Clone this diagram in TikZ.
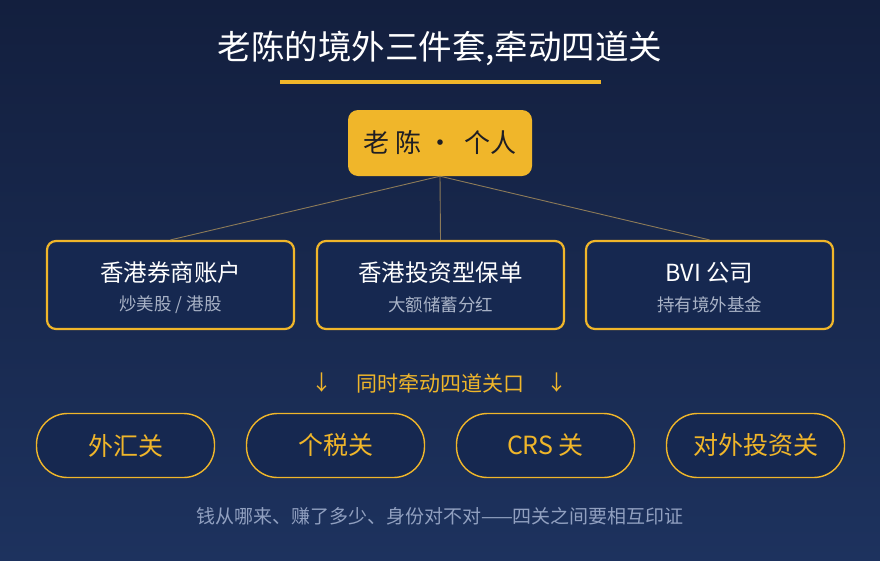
\documentclass[tikz,border=0pt]{standalone}
\usepackage{fontspec}
\setmainfont{Noto Sans CJK SC}
\definecolor{bgtop}{RGB}{19,31,62}
\definecolor{bgbot}{RGB}{29,50,94}
\definecolor{mlgold}{RGB}{240,182,42}
\definecolor{boxfill}{RGB}{22,40,80}
\definecolor{linkline}{RGB}{140,122,88}
\definecolor{subgray}{RGB}{168,178,198}
\definecolor{footgray}{RGB}{145,160,192}
\usetikzlibrary{positioning}

\begin{document}
\begin{tikzpicture}[
  x=1pt,y=-1pt,
  every node/.style={inner sep=0pt},
  holdbox/.style={draw=mlgold,line width=2.2pt,fill=boxfill,rounded corners=9pt,
                  minimum width=247pt,minimum height=88pt},
  holdtitle/.style={text=white,font=\fontsize{23.5}{28}\selectfont},
  holdsub/.style={text=subgray,font=\fontsize{17.5}{22}\selectfont},
  gatepill/.style={draw=mlgold,line width=1.4pt,fill=boxfill,rounded corners=31pt,
                   minimum width=178pt,minimum height=64pt,text=mlgold,
                   font=\fontsize{25}{30}\selectfont},
  hinttext/.style={text=mlgold,font=\fontsize{21}{26}\selectfont},
  link/.style={draw=linkline,line width=0.9pt},
]
  % Background
  \shade[top color=bgtop,bottom color=bgbot] (0,0) rectangle (880,560);
  \useasboundingbox (0,0) rectangle (880,560);

  % Title
  \node[text=white,font=\fontsize{33.5}{38}\selectfont] (title) at (440,48) {老陈的境外三件套,牵动四道关};
  \draw[mlgold,line width=4pt] (280,82) -- (601,82);

  % Person
  \node[fill=mlgold,rounded corners=10pt,minimum width=184pt,minimum height=66pt,
        text={rgb,255:red,30;green,30;blue,36},font=\fontsize{26}{30}\selectfont]
        (me) at (440,143) {老 陈 ·\ \ 个人};

  % Box 1
  \node[holdbox] (k1) at (170.5,285) {};
  \node[holdtitle] at ([yshift=12pt]k1.center) {香港券商账户};
  \node[holdsub] at ([yshift=-20pt]k1.center) {炒美股 / 港股};
  % Box 2
  \node[holdbox] (k2) at (440.5,285) {};
  \node[holdtitle] at ([yshift=12pt]k2.center) {香港投资型保单};
  \node[holdsub] at ([yshift=-20pt]k2.center) {大额储蓄分红};
  % Box 3
  \node[holdbox] (k3) at (709.5,285) {};
  \node[holdtitle] at ([yshift=12pt]k3.center) {BVI 公司};
  \node[holdsub] at ([yshift=-20pt]k3.center) {持有境外基金};

  % Links
  \foreach \k in {k1,k2,k3}
    \draw[link] (me.south) -- (\k.north);

  % Hint
  \node[hinttext] (hint) at (440,383) {同时牵动四道关口};
  \node[hinttext] (hl) at (322,383) {↓};
  \node[hinttext] (hr) at (557,383) {↓};

  % Gates
  \node[gatepill] (g1) at (125.5,445.5) {外汇关};
  \node[gatepill] (g2) at (335.5,445.5) {个税关};
  \node[gatepill] (g3) at (545.5,445.5) {CRS 关};
  \node[gatepill] (g4) at (755.5,445.5) {对外投资关};

  % Footer
  \node[text=footgray,font=\fontsize{19}{24}\selectfont] (foot) at (440,516)
    {钱从哪来、赚了多少、身份对不对——四关之间要相互印证};
\end{tikzpicture}
\end{document}
